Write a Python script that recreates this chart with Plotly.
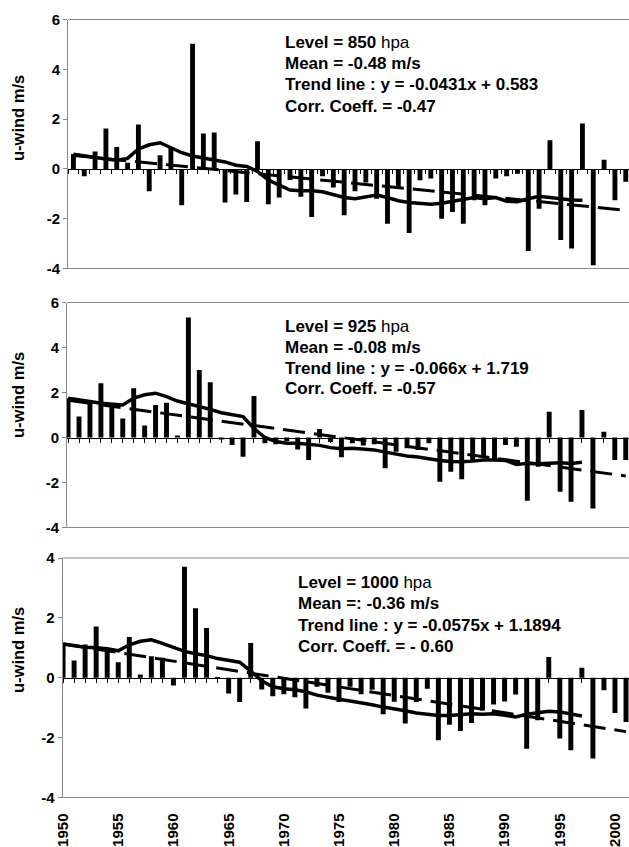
import plotly.graph_objects as go

# ---------------- data ----------------
years = list(range(1950, 2002))
line_years = list(range(1950, 1998))

u850 = [0.6, -0.3, 0.7, 1.62, 0.88, 0.25, 1.78, -0.9, 0.55, 0.85,
        -1.46, 5.03, 1.42, 1.46, -1.35, -1.03, -1.33, 1.11, -1.42, -1.15,
        -0.45, -1.12, -1.93, -0.3, -0.75, -1.86, -0.9, -0.55, -1.2, -2.2,
        -0.79, -2.57, -0.46, -0.39, -2.0, -1.73, -2.2, -1.26, -1.46, -0.39,
        -0.3, -0.19, -3.3, -1.6, 1.15, -2.86, -3.2, 1.82, -3.87, 0.37,
        -1.26, -0.52]
smooth850 = [0.59, 0.52, 0.45, 0.4, 0.35, 0.42, 0.8, 0.97, 1.05, 0.85,
             0.65, 0.52, 0.45, 0.38, 0.28, 0.15, 0.1, -0.1, -0.45, -0.65,
             -0.85, -0.88, -0.88, -0.92, -1.05, -1.15, -1.2, -1.12, -1.05, -1.15,
             -1.28, -1.35, -1.4, -1.42, -1.38, -1.3, -1.2, -1.15, -1.2, -1.15,
             -1.3, -1.32, -1.2, -1.1, -1.15, -1.2, -1.25, -1.26]
trend850_x = [1950, 2001]
trend850 = [0.54, -1.66]

u925 = [1.74, 0.93, 1.62, 2.41, 1.52, 0.85, 2.19, 0.53, 1.45, 1.55,
        0.07, 5.33, 3.0, 2.46, -0.05, -0.33, -0.85, 1.85, -0.26, -0.3,
        -0.15, -0.53, -1.0, 0.38, -0.2, -0.88, -0.25, -0.35, -0.3, -1.37,
        -0.63, -0.48, -0.56, -0.25, -1.97, -1.52, -1.86, -1.0, -0.85, -1.0,
        -0.33, -0.41, -2.81, -1.3, 1.15, -2.41, -2.86, 1.22, -3.15, 0.26,
        -1.0, -1.0]
smooth925 = [1.74, 1.68, 1.6, 1.52, 1.47, 1.45, 1.75, 1.9, 1.97, 1.82,
             1.62, 1.5, 1.4, 1.25, 1.1, 1.0, 0.93, 0.4, 0.0, -0.18,
             -0.25, -0.26, -0.3, -0.35, -0.45, -0.5, -0.48, -0.5, -0.55, -0.65,
             -0.75, -0.82, -0.87, -0.95, -1.02, -1.07, -1.08, -1.05, -1.0, -1.0,
             -1.02, -1.2, -1.15, -1.17, -1.13, -1.12, -1.15, -1.1]
trend925_x = [1950, 2001]
trend925 = [1.65, -1.71]

u1000 = [1.13, 0.58, 1.11, 1.71, 0.97, 0.52, 1.36, 0.11, 0.72, 0.67,
         -0.26, 3.71, 2.32, 1.66, -0.02, -0.53, -0.81, 1.16, -0.39, -0.62,
         -0.55, -0.65, -1.03, -0.3, -0.5, -0.81, -0.3, -0.55, -0.4, -1.22,
         -0.8, -1.53, -0.81, -0.37, -2.09, -1.57, -1.78, -1.51, -1.09, -0.89,
         -0.79, -0.56, -2.37, -1.42, 0.69, -2.03, -2.42, 0.33, -2.7, -0.42,
         -1.18, -1.48]
smooth1000 = [1.13, 1.08, 1.02, 1.0, 0.97, 0.9, 1.1, 1.22, 1.27, 1.15,
              1.0, 0.88, 0.8, 0.74, 0.64, 0.57, 0.52, 0.22, -0.1, -0.3,
              -0.37, -0.4, -0.47, -0.58, -0.66, -0.72, -0.78, -0.83, -0.9, -0.98,
              -1.03, -1.1, -1.18, -1.22, -1.26, -1.26, -1.24, -1.2, -1.22, -1.2,
              -1.25, -1.31, -1.22, -1.18, -1.12, -1.14, -1.2, -1.28]
trend1000_x = [1950, 2001]
trend1000 = [1.13, -1.80]

year_ticks = [1950, 1955, 1960, 1965, 1970, 1975, 1980, 1985, 1990, 1995, 2000]
year_labels = [str(y) for y in year_ticks]

texts850 = ["<b>Level = 850</b> hpa", "<b>Mean = -0.48 m/s</b>",
            "<b>Trend line : y = -0.0431x + 0.583</b>", "<b>Corr. Coeff. = -0.47</b>"]
texts925 = ["<b>Level = 925</b> hpa", "<b>Mean = -0.08 m/s</b>",
            "<b>Trend line : y = -0.066x + 1.719</b>", "<b>Corr. Coeff. = -0.57</b>"]
texts1000 = ["<b>Level = 1000</b> hpa", "<b>Mean =: -0.36 m/s</b>",
             "<b>Trend line : y = -0.0575x + 1.1894</b>", "<b>Corr. Coeff. = - 0.60</b>"]

ytick_a = [-4, -2, 0, 2, 4, 6]
ytick_b = [-4, -2, 0, 2, 4]

# ---------------- layout geometry (pixels) ----------------
W, H = 629, 847
FONT = "Liberation Sans, Arial, sans-serif"
GRAY = "#8a8a8a"

panels = [
    dict(vals=u850, sm=smooth850, tx=trend850_x, tr=trend850, texts=texts850,
         left=68, top=19.5, bottom=268.5, xr=[1949.5, 2001.3], yr=[-4, 6],
         yt=ytick_a, tick0=1949.5, tx0=283, ty=[42, 63.5, 85, 106.5], ttl=118),
    dict(vals=u925, sm=smooth925, tx=trend925_x, tr=trend925, texts=texts925,
         left=67, top=302.5, bottom=527.5, xr=[1949.9, 2001.3], yr=[-4, 6],
         yt=ytick_a, tick0=1950, tx0=283, ty=[326, 347, 368, 389], ttl=395),
    dict(vals=u1000, sm=smooth1000, tx=trend1000_x, tr=trend1000, texts=texts1000,
         left=62.5, top=558, bottom=797.5, xr=[1949.95, 2001.27], yr=[-4, 4],
         yt=ytick_b, tick0=1950, tx0=296, ty=[582, 603.5, 625, 646.5], ttl=650),
]

fig = go.Figure()
layout = dict(width=W, height=H, margin=dict(l=0, r=0, t=0, b=0, autoexpand=False),
              plot_bgcolor="white", paper_bgcolor="white", showlegend=False,
              font=dict(family=FONT, color="black"))
annotations = []
shapes = []

for k, p in enumerate(panels, start=1):
    xa = "x" if k == 1 else f"x{k}"
    ya = "y" if k == 1 else f"y{k}"
    y0f = 1 - p["bottom"] / H
    y1f = 1 - p["top"] / H
    zero_f = y0f + (0 - p["yr"][0]) / (p["yr"][1] - p["yr"][0]) * (y1f - y0f)

    fig.add_trace(go.Bar(x=years, y=p["vals"], width=0.45, marker_color="black",
                         marker_line_width=0, xaxis=xa, yaxis=ya, hoverinfo="x+y"))
    fig.add_trace(go.Scatter(x=line_years, y=p["sm"], mode="lines",
                             line=dict(color="black", width=3.5),
                             xaxis=xa, yaxis=ya))
    fig.add_trace(go.Scatter(x=p["tx"], y=p["tr"], mode="lines",
                             line=dict(color="black", width=3, dash="22px,9px"),
                             xaxis=xa, yaxis=ya))

    layout[f"xaxis{'' if k == 1 else k}"] = dict(
        domain=[p["left"] / W, 1], range=p["xr"], anchor="free", position=zero_f,
        showline=True, linecolor="black", linewidth=1.2,
        ticks="outside", ticklen=4, tickwidth=1, tickcolor="black",
        tickmode="linear", tick0=p["tick0"], dtick=1, automargin=False,
        showticklabels=False, showgrid=False, zeroline=False)
    layout[f"yaxis{'' if k == 1 else k}"] = dict(
        domain=[y0f, y1f], range=p["yr"], anchor=xa, automargin=False,
        tickmode="array", tickvals=p["yt"],
        ticktext=[f"<b>{v}</b>" for v in p["yt"]],
        tickfont=dict(size=15, family=FONT, color="black"),
        ticks="outside", ticklen=4, tickcolor=GRAY,
        showline=True, linecolor=GRAY, linewidth=1,
        showgrid=False, zeroline=False)

    for edge in (0, 1):
        shapes.append(dict(type="line", xref=f"{xa} domain", yref=f"{ya} domain",
                           x0=0, x1=1, y0=edge, y1=edge,
                           line=dict(color=GRAY, width=1)))

    for t, yy in zip(p["texts"], p["ty"]):
        annotations.append(dict(text=t, xref="paper", yref="paper",
                                x=p["tx0"] / W, y=1 - yy / H, xanchor="left",
                                yanchor="middle", showarrow=False,
                                font=dict(size=17, family=FONT, color="black")))
    annotations.append(dict(text="<b>u-wind m/s</b>", xref="paper", yref="paper",
                            x=18 / W, y=1 - p["ttl"] / H, textangle=-90,
                            xanchor="center", yanchor="middle", showarrow=False,
                            font=dict(size=16.5, family=FONT, color="black")))

# year labels under the bottom panel
layout["xaxis4"] = dict(overlaying="x3", anchor="y3", side="bottom",
                        range=panels[2]["xr"], tickmode="array",
                        tickvals=year_ticks, automargin=False,
                        ticktext=[f"<b>{s}</b>" for s in year_labels],
                        tickangle=-90, ticks="outside", ticklen=9,
                        tickcolor="rgba(0,0,0,0)",
                        tickfont=dict(size=15, family=FONT, color="black"),
                        showline=False, showgrid=False, zeroline=False)
fig.add_trace(go.Scatter(x=year_ticks, y=[None] * len(year_ticks), mode="lines",
                         xaxis="x4", yaxis="y3", hoverinfo="skip"))

layout["annotations"] = annotations
layout["shapes"] = shapes
fig.update_layout(**layout)
fig.write_html("out.html", config={"displayModeBar": False},
               post_script="document.body.style.margin='0';"
                           "document.body.style.overflow='hidden';"
                           "document.documentElement.style.overflow='hidden';")
